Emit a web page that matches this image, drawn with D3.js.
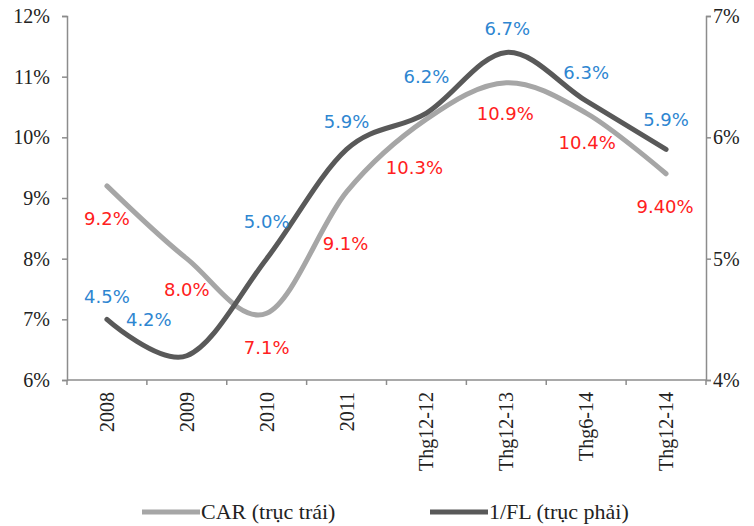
<meta charset="utf-8">
<html>
<head>
<style>
  body { margin: 0; background: #fff; }
  .tick text { font-family: "Liberation Serif", "Times New Roman", serif; font-size: 20px; fill: #222; }
  .lbl { font-family: "DejaVu Sans", Verdana, sans-serif; font-size: 18px; }
  .legend text { font-family: "Liberation Serif", "Times New Roman", serif; font-size: 22px; fill: #222; }
</style>
</head>
<body>
<div id="chart"></div>
<script src="https://d3js.org/d3.v7.min.js"></script>
<script>
// data
var categories = ["2008", "2009", "2010", "2011", "Thg12-12", "Thg12-13", "Thg6-14", "Thg12-14"];
var carValues = [9.2, 8.0, 7.1, 9.1, 10.3, 10.9, 10.4, 9.4];       // left axis
var flValues = [4.5, 4.2, 5.0, 5.9, 6.2, 6.7, 6.3, 5.9];           // right axis
var carLabels = ["9.2%", "8.0%", "7.1%", "9.1%", "10.3%", "10.9%", "10.4%", "9.40%"];
var flLabels = ["4.5%", "4.2%", "5.0%", "5.9%", "6.2%", "6.7%", "6.3%", "5.9%"];
var leftTicks = [6, 7, 8, 9, 10, 11, 12];
var rightTicks = [4, 5, 6, 7];

// label offsets (px) from their point, as placed in the original
var carOffset = [[0, 33], [0, 31], [0, 34], [-1, 52], [-12, 49], [-1, 31], [1, 30], [-1, 33]];
var flOffset = [[0, -23], [-38, -36], [0, -37], [0, -28], [0, -36], [1, -24], [0, -28], [0, -30]];

var W = 754, H = 526;
var mLeft = 67, mRight = 706, mTop = 16, mBottom = 380;

var svg = d3.select("#chart").append("svg")
    .attr("width", W).attr("height", H);

var x = d3.scaleBand().domain(categories).range([mLeft, mRight]);
var yL = d3.scaleLinear().domain([6, 12]).range([mBottom, mTop]);
var yR = d3.scaleLinear().domain([4, 7]).range([mBottom, mTop]);
var cx = function(i) { return x(categories[i]) + x.bandwidth() / 2; };

var axisColor = "#8c8c8c";

// left axis
var gl = svg.append("g").attr("transform", "translate(" + mLeft + ",0)")
    .call(d3.axisLeft(yL).tickValues(leftTicks).tickSize(5).tickPadding(12)
      .tickFormat(function(d) { return d + "%"; }));
// right axis
var gr = svg.append("g").attr("transform", "translate(" + mRight + ",0)")
    .call(d3.axisRight(yR).tickValues(rightTicks).tickSize(5).tickPadding(2)
      .tickFormat(function(d) { return d + "%"; }));
// bottom axis with boundary ticks
var gb = svg.append("g").attr("transform", "translate(0," + mBottom + ")");
gb.append("line").attr("x1", mLeft).attr("x2", mRight).attr("stroke", axisColor).attr("stroke-width", 1.5);
gb.selectAll(".bt").data(d3.range(categories.length + 1)).enter().append("line")
    .attr("x1", function(i) { return mLeft + i * x.bandwidth(); })
    .attr("x2", function(i) { return mLeft + i * x.bandwidth(); })
    .attr("y1", 0).attr("y2", 5)
    .attr("stroke", axisColor).attr("stroke-width", 1.5);
gb.selectAll(".xl").data(categories).enter().append("text")
    .attr("transform", function(d, i) { return "translate(" + (cx(i) + 7) + ",12) rotate(-90)"; })
    .attr("text-anchor", "end")
    .style("font-family", "'Liberation Serif', 'Times New Roman', serif")
    .style("font-size", "20px").style("fill", "#222")
    .text(function(d) { return d; });

[gl, gr].forEach(function(g) {
  g.select(".domain").attr("stroke", axisColor).attr("stroke-width", 1.5);
  g.selectAll(".tick line").attr("stroke", axisColor).attr("stroke-width", 1.5);
});

var curve = d3.curveCardinal.tension(0);

var carLine = d3.line().curve(curve)
    .x(function(d, i) { return cx(i); })
    .y(function(d) { return yL(d); });
var flLine = d3.line().curve(curve)
    .x(function(d, i) { return cx(i); })
    .y(function(d) { return yR(d); });

svg.append("path").datum(carValues).attr("d", carLine)
    .attr("fill", "none").attr("stroke", "#a6a6a6").attr("stroke-width", 5)
    .attr("stroke-linecap", "round");
svg.append("path").datum(flValues).attr("d", flLine)
    .attr("fill", "none").attr("stroke", "#595959").attr("stroke-width", 5)
    .attr("stroke-linecap", "round");

svg.selectAll(".carl").data(carValues).enter().append("text")
    .attr("class", "lbl")
    .attr("x", function(d, i) { return cx(i) + carOffset[i][0]; })
    .attr("y", function(d, i) { return yL(d) + carOffset[i][1]; })
    .attr("dy", "0.35em").attr("text-anchor", "middle")
    .attr("fill", "#ff2020")
    .text(function(d, i) { return carLabels[i]; });

svg.selectAll(".fll").data(flValues).enter().append("text")
    .attr("class", "lbl")
    .attr("x", function(d, i) { return cx(i) + flOffset[i][0]; })
    .attr("y", function(d, i) { return yR(d) + flOffset[i][1]; })
    .attr("dy", "0.35em").attr("text-anchor", "middle")
    .attr("fill", "#2e86d1")
    .text(function(d, i) { return flLabels[i]; });

// legend
var legend = svg.append("g").attr("class", "legend");
var items = [
  {name: "CAR (trục trái)", color: "#a6a6a6", x: 142},
  {name: "1/FL (trục phải)", color: "#595959", x: 430}
];
items.forEach(function(it) {
  legend.append("line").attr("x1", it.x).attr("x2", it.x + 58)
    .attr("y1", 512).attr("y2", 512)
    .attr("stroke", it.color).attr("stroke-width", 5);
  legend.append("text").attr("x", it.x + 59).attr("y", 512).attr("dy", "0.33em")
    .text(it.name);
});
</script>
</body>
</html>
